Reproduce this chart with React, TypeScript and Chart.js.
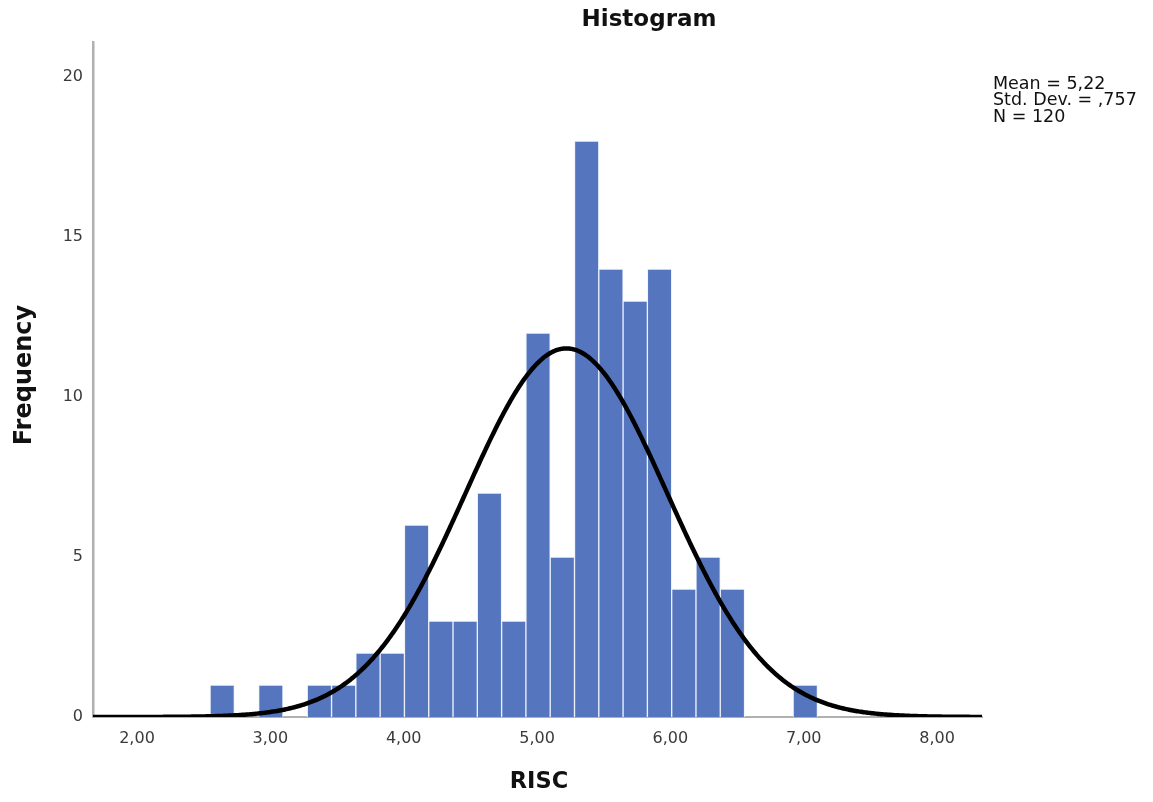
import { useEffect, useRef } from "react";
import { Chart, registerables } from "chart.js";

Chart.register(...registerables);

// Histogram bins (centres of the RISC bins) and their frequencies
const BIN_CENTERS = [
  2.6391, 2.8213, 3.0035, 3.1857, 3.3679, 3.5501, 3.7323, 3.9145, 4.0967,
  4.2789, 4.4611, 4.6433, 4.8255, 5.0077, 5.1899, 5.3721, 5.5543, 5.7365,
  5.9187, 6.1009, 6.2831, 6.4653, 6.6475, 6.8297, 7.0119,
];
const FREQUENCIES = [
  1, 0, 1, 0, 1, 1, 2, 2, 6, 3, 3, 7, 3, 12, 5, 18, 14, 13, 14, 4, 5, 4, 0, 0, 1,
];
const X_TICKS = [2, 3, 4, 5, 6, 7, 8];
const Y_TICKS = [0, 5, 10, 15, 20];
const STATS_LINES = ["Mean = 5,22", "Std. Dev. = ,757", "N = 120"];

// Normal curve parameters (from the stats box)
const MEAN = 5.22;
const STD_DEV = 0.757;
const N = 120;
const BIN_WIDTH = 0.1822;

const X_MIN = 1.67;
const X_MAX = 8.337;
const Y_MAX = 21.1;

const FONT = "'DejaVu Sans', Verdana, sans-serif";

function normalCurve() {
  const pts: { x: number; y: number }[] = [];
  const k = (N * BIN_WIDTH) / (STD_DEV * Math.sqrt(2 * Math.PI));
  for (let x = X_MIN - 0.05; x <= X_MAX + 0.05; x += 0.01) {
    const z = (x - MEAN) / STD_DEV;
    pts.push({ x, y: k * Math.exp(-0.5 * z * z) });
  }
  return pts;
}

const textPlugin = {
  id: "texts",
  afterDraw(chart: any) {
    const ctx = chart.ctx as CanvasRenderingContext2D;
    ctx.save();
    ctx.fillStyle = "#111";
    ctx.textAlign = "center";
    ctx.textBaseline = "middle";
    ctx.font = `bold 23px ${FONT}`;
    ctx.fillText("Histogram", 649, 20);
    ctx.font = `bold 22.5px ${FONT}`;
    ctx.fillText("RISC", 539, 782);
    ctx.save();
    ctx.translate(25, 375);
    ctx.rotate(-Math.PI / 2);
    ctx.font = `bold 24px ${FONT}`;
    ctx.fillText("Frequency", 0, 0);
    ctx.restore();
    ctx.textAlign = "left";
    ctx.font = `17.5px ${FONT}`;
    STATS_LINES.forEach((l, i) => ctx.fillText(l, 993, 84 + i * 16.7));
    ctx.restore();
  },
};

export default function App() {
  const ref = useRef<HTMLCanvasElement | null>(null);
  useEffect(() => {
    if (!ref.current) return;
    const chart = new Chart(ref.current, {
      type: "bar",
      data: {
        datasets: [
          {
            type: "line",
            data: normalCurve(),
            borderColor: "#000",
            borderWidth: 4.5,
            pointRadius: 0,
            tension: 0,
            order: 0,
          } as any,
          {
            type: "bar",
            data: BIN_CENTERS.map((x, i) => ({ x, y: FREQUENCIES[i] })),
            backgroundColor: "#5576bf",
            borderColor: "rgba(235,240,250,0.9)",
            borderWidth: 1,
            borderSkipped: "bottom",
            categoryPercentage: 1,
            barPercentage: 1,
            order: 1,
          } as any,
        ],
      },
      options: {
        animation: false,
        responsive: true,
        maintainAspectRatio: false,
        layout: { padding: { left: 0, right: 171, top: 42, bottom: 0 } },
        plugins: { legend: { display: false }, tooltip: { enabled: false } },
        scales: {
          x: {
            type: "linear",
            min: X_MIN,
            max: X_MAX,
            offset: false,
            grid: { display: false, drawTicks: false },
            border: { display: true, color: "#b0b0b0", width: 2 },
            afterBuildTicks: (s: any) => {
              s.ticks = X_TICKS.map((v) => ({ value: v }));
            },
            afterFit: (s: any) => {
              s.height = 85;
            },
            ticks: {
              padding: 12,
              color: "#3a3a3a",
              font: { family: FONT, size: 16 },
              maxRotation: 0,
              autoSkip: false,
              callback: (v: any) => Number(v).toFixed(2).replace(".", ","),
            },
          },
          y: {
            type: "linear",
            min: 0,
            max: Y_MAX,
            grid: { display: false, drawTicks: false },
            border: { display: true, color: "#b0b0b0", width: 2.5 },
            afterBuildTicks: (s: any) => {
              s.ticks = Y_TICKS.map((v) => ({ value: v }));
            },
            afterFit: (s: any) => {
              s.width = 93;
            },
            ticks: {
              padding: 10,
              color: "#3a3a3a",
              font: { family: FONT, size: 16 },
              autoSkip: false,
              callback: (v: any) => String(v),
            },
          },
        },
      },
      plugins: [textPlugin],
    });
    return () => chart.destroy();
  }, []);
  return (
    <div
      style={{
        position: "absolute",
        left: 0,
        top: 0,
        width: 1153,
        height: 802,
        background: "#fff",
      }}
    >
      <canvas ref={ref} />
    </div>
  );
}
